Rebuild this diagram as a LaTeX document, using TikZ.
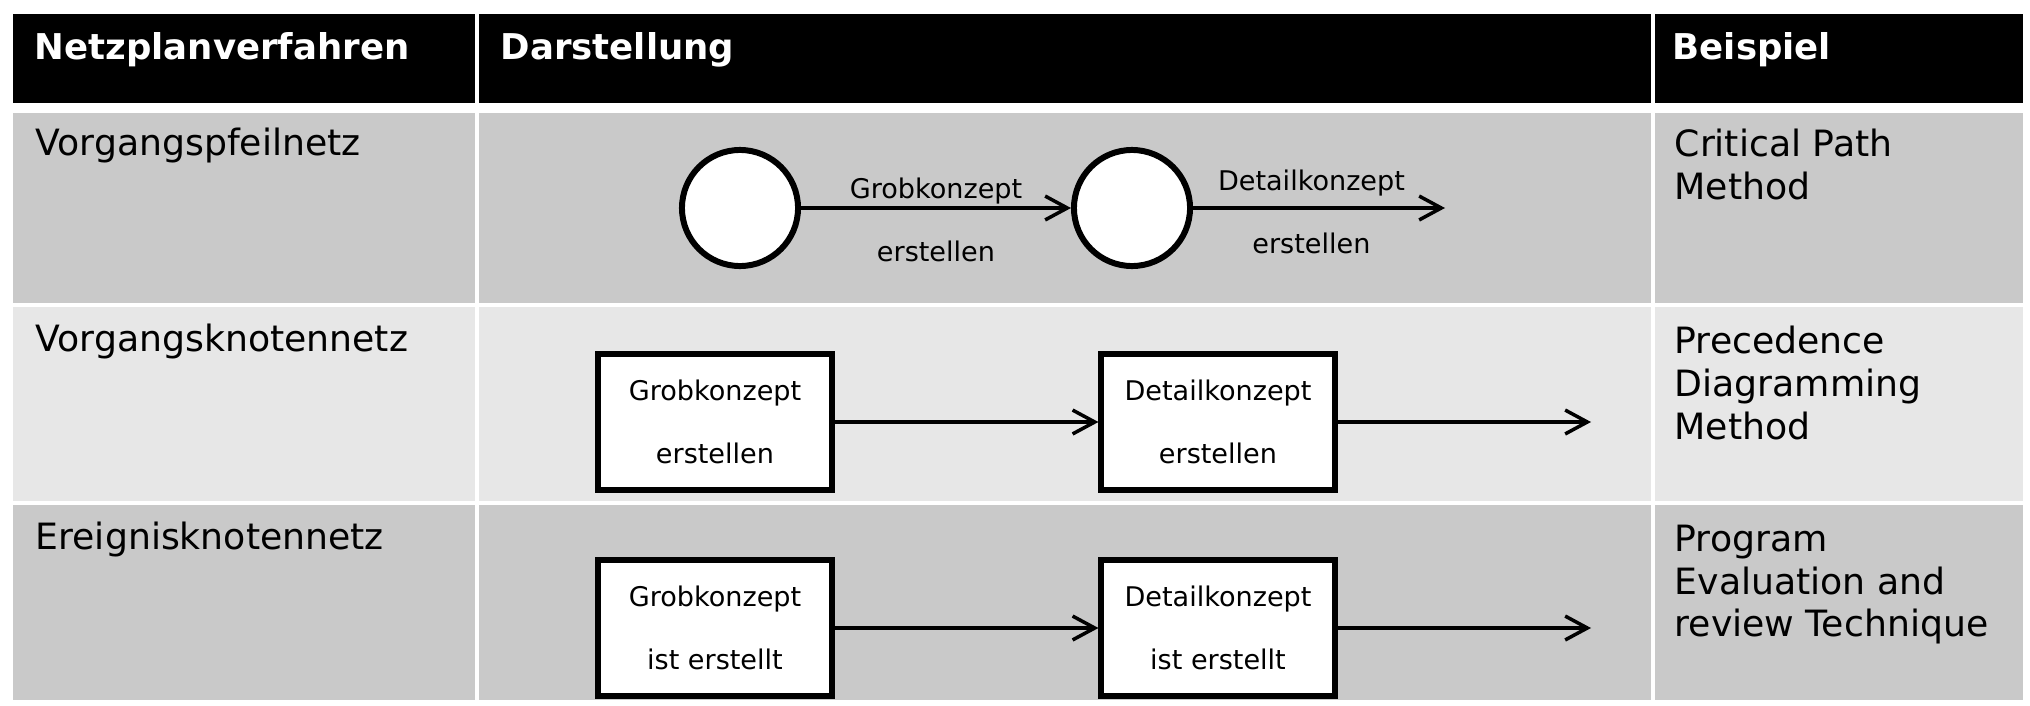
\documentclass[tikz,border=0pt]{standalone}
\usepackage{fontspec}
\setmainfont{DejaVu Sans}
\usetikzlibrary{arrows.meta}
\definecolor{rowdark}{RGB}{201,201,201}
\definecolor{rowlight}{RGB}{231,231,231}
\tikzset{
	head/.style={anchor=base west,inner sep=0,text=white,font=\fontsize{10.1}{12}\selectfont\bfseries},
	proc/.style={anchor=base west,inner sep=0,font=\fontsize{10.3}{12.2}\selectfont},
	method/.style={anchor=north west,inner sep=0,align=left,font=\fontsize{10.3}{12.2}\selectfont},
	event/.style={circle,draw,fill=white,line width=1.7pt,minimum size=1.16cm,inner sep=0},
	task/.style={rectangle,draw,fill=white,line width=1.7pt,minimum width=2.33cm,minimum height=1.35cm,inner sep=0,align=center,font=\fontsize{7.7}{17.9}\selectfont},
	lbl/.style={inner sep=0,align=center,font=\fontsize{7.7}{17.9}\selectfont},
	arr/.style={-{Straight Barb[length=6.3pt,width=6.8pt]},line width=1pt},
}
\begin{document}
\begin{tikzpicture}[x=0.01cm,y=-0.01cm]
	\useasboundingbox (0,0) rectangle (2030,706);
	% Tabelle
	\fill[black] (13,14) rectangle (475,103);
	\fill[black] (479,14) rectangle (1651,103);
	\fill[black] (1655,14) rectangle (2023,103);
	\fill[rowdark] (13,113) rectangle (475,303);
	\fill[rowdark] (479,113) rectangle (1651,303);
	\fill[rowdark] (1655,113) rectangle (2023,303);
	\fill[rowlight] (13,307) rectangle (475,501);
	\fill[rowlight] (479,307) rectangle (1651,501);
	\fill[rowlight] (1655,307) rectangle (2023,501);
	\fill[rowdark] (13,505) rectangle (475,700);
	\fill[rowdark] (479,505) rectangle (1651,700);
	\fill[rowdark] (1655,505) rectangle (2023,700);
	\node[head] (h1) at (34,59) {Netzplanverfahren};
	\node[head] (h2) at (500,59) {Darstellung};
	\node[head] (h3) at (1672,59) {Beispiel};
	\node[proc] (p1) at (35,155) {Vorgangspfeilnetz};
	\node[proc] (p2) at (35,351) {Vorgangsknotennetz};
	\node[proc] (p3) at (35,549) {Ereignisknotennetz};
	\node[method] (m1) at (1674,128) {Critical Path\\Method};
	\node[method] (m2) at (1674,325) {Precedence\\Diagramming\\Method};
	\node[method] (m3) at (1674,524) {Program\\Evaluation and\\review Technique};
	% Vorgangspfeilnetz
	\node[event] (e1) at (740,208) {};
	\node[event] (e2) at (1132,208) {};
	\coordinate (e3) at (1445,208);
	\draw[arr] (e1) -- node[lbl,yshift=-3.3pt] (l1) {Grobkonzept\\erstellen} (e2);
	\draw[arr] (e2) -- node[lbl,pos=0.47,yshift=-1pt] (l2) {Detailkonzept\\erstellen} (e3);
	% Vorgangsknotennetz
	\node[task] (v1) at (715,422) {Grobkonzept\\erstellen};
	\node[task] (v2) at (1218,422) {Detailkonzept\\erstellen};
	\coordinate (v3) at (1591,422);
	\draw[arr] (v1) -- (v2);
	\draw[arr] (v2) -- (v3);
	% Ereignisknotennetz
	\node[task] (k1) at (715,628) {Grobkonzept\\ist erstellt};
	\node[task] (k2) at (1218,628) {Detailkonzept\\ist erstellt};
	\coordinate (k3) at (1591,628);
	\draw[arr] (k1) -- (k2);
	\draw[arr] (k2) -- (k3);
\end{tikzpicture}
\end{document}
